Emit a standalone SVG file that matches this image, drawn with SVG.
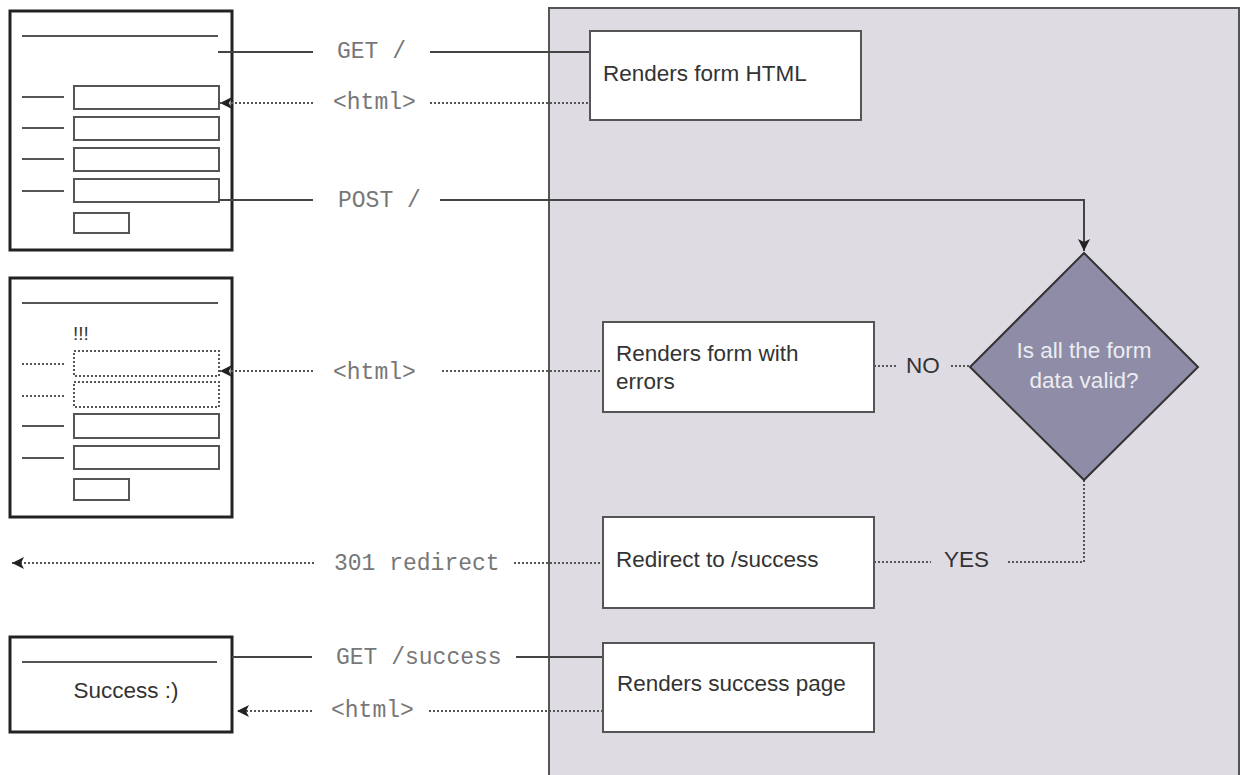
<svg xmlns="http://www.w3.org/2000/svg" width="1241" height="775" viewBox="0 0 1241 775">
<defs>
<style>
.bg{fill:#ffffff}
.panel{fill:#dfdbe3;stroke:#555;stroke-width:2}
.box{fill:#ffffff;stroke:#555;stroke-width:2}
.browser{fill:#ffffff;stroke:#222;stroke-width:3}
.field{fill:none;stroke:#555;stroke-width:2}
.dfield{fill:none;stroke:#555;stroke-width:2;stroke-dasharray:2 2}
.mline{stroke:#555;stroke-width:2;fill:none}
.dline{stroke:#555;stroke-width:2;fill:none;stroke-dasharray:2 2}
.solid{stroke:#444;stroke-width:2;fill:none}
.dotted{stroke:#555;stroke-width:2;fill:none;stroke-dasharray:2 2}
.lbl{font-family:"Liberation Sans",Arial,sans-serif;font-size:22.5px;fill:#333}
.mono{font-family:"Liberation Mono","Courier New",monospace;font-size:23px;fill:#777}
.dtext{font-family:"Liberation Sans",Arial,sans-serif;font-size:22.5px;fill:#ececf2;text-anchor:middle}
</style>
<marker id="arrL" viewBox="0 0 12 12" refX="12" refY="6" markerWidth="12" markerHeight="12" orient="auto" markerUnits="userSpaceOnUse">
<path d="M0,0 L12,6 L0,12 L3,6 z" fill="#222"/>
</marker>
</defs>
<rect class="bg" x="0" y="0" width="1241" height="775"/>

<g id="server">
<rect class="panel" x="549" y="8" width="690" height="800"/>
</g>

<g id="browser-form">
<rect class="browser" x="10" y="11" width="222" height="239"/>
<line class="mline" x1="22" y1="36" x2="218" y2="36"/>
<line class="mline" x1="22" y1="97" x2="64" y2="97"/>
<line class="mline" x1="22" y1="128" x2="64" y2="128"/>
<line class="mline" x1="22" y1="159" x2="64" y2="159"/>
<line class="mline" x1="22" y1="191" x2="64" y2="191"/>
<rect class="field" x="74" y="86" width="145" height="23"/>
<rect class="field" x="74" y="117" width="145" height="23"/>
<rect class="field" x="74" y="148" width="145" height="23"/>
<rect class="field" x="74" y="179" width="145" height="23"/>
<rect class="field" x="74" y="213" width="55" height="20"/>
</g>

<g id="browser-errors">
<rect class="browser" x="10" y="278" width="222" height="239"/>
<line class="mline" x1="22" y1="303" x2="218" y2="303"/>
<text class="lbl" x="73" y="340" style="font-size:19px">!!!</text>
<line class="dline" x1="22" y1="364" x2="64" y2="364"/>
<line class="dline" x1="22" y1="396" x2="64" y2="396"/>
<line class="mline" x1="22" y1="426" x2="64" y2="426"/>
<line class="mline" x1="22" y1="458" x2="64" y2="458"/>
<rect class="dfield" x="74" y="351" width="145" height="25"/>
<rect class="dfield" x="74" y="382" width="145" height="25"/>
<rect class="field" x="74" y="414" width="145" height="24"/>
<rect class="field" x="74" y="446" width="145" height="23"/>
<rect class="field" x="74" y="479" width="55" height="21"/>
</g>

<g id="browser-success">
<rect class="browser" x="10" y="637" width="222" height="95"/>
<line class="mline" x1="22" y1="662" x2="217" y2="662"/>
<text class="lbl" x="126" y="698" text-anchor="middle">Success :)</text>
</g>

<g id="connectors">
<!-- GET / -->
<line class="solid" x1="218" y1="52" x2="313" y2="52"/>
<line class="solid" x1="430" y1="52" x2="590" y2="52"/>
<!-- html 1 -->
<line class="dotted" x1="430" y1="103" x2="590" y2="103"/>
<line class="dotted" x1="313" y1="103" x2="220" y2="103" marker-end="url(#arrL)"/>
<!-- POST / -->
<line class="solid" x1="218" y1="200" x2="313" y2="200"/>
<polyline class="solid" points="440,200 1084,200 1084,251" marker-end="url(#arrL)"/>
<!-- html 2 -->
<line class="dotted" x1="442" y1="371" x2="603" y2="371"/>
<line class="dotted" x1="313" y1="371" x2="220" y2="371" marker-end="url(#arrL)"/>
<!-- NO -->
<line class="dotted" x1="874" y1="366" x2="897" y2="366"/>
<line class="dotted" x1="951" y1="366" x2="970" y2="366"/>
<!-- YES -->
<polyline class="dotted" points="1084,480 1084,562 1007,562"/>
<line class="dotted" x1="874" y1="562" x2="931" y2="562"/>
<!-- 301 redirect -->
<line class="dotted" x1="514" y1="563" x2="603" y2="563"/>
<line class="dotted" x1="314" y1="563" x2="12" y2="563" marker-end="url(#arrL)"/>
<!-- GET /success -->
<line class="solid" x1="232" y1="657" x2="312" y2="657"/>
<line class="solid" x1="516" y1="657" x2="603" y2="657"/>
<!-- html 3 -->
<line class="dotted" x1="429" y1="711" x2="603" y2="711"/>
<line class="dotted" x1="312" y1="711" x2="237" y2="711" marker-end="url(#arrL)"/>
</g>

<g id="labels">
<text class="mono" x="337" y="58">GET /</text>
<text class="mono" x="333" y="109">&lt;html&gt;</text>
<text class="mono" x="338" y="207">POST /</text>
<text class="mono" x="333" y="379">&lt;html&gt;</text>
<text class="lbl" x="906" y="373">NO</text>
<text class="lbl" x="944" y="567">YES</text>
<text class="mono" x="334" y="570">301 redirect</text>
<text class="mono" x="336" y="664">GET /success</text>
<text class="mono" x="331" y="717">&lt;html&gt;</text>
</g>

<g id="renders-form-html">
<rect class="box" x="590" y="31" width="271" height="89"/>
<text class="lbl" x="603" y="81">Renders form HTML</text>
</g>

<g id="decision">
<polygon points="1084,253 1198,367 1084,480 970,367" fill="#8e8ca6" stroke="#333" stroke-width="2"/>
<text class="dtext" x="1084" y="358">Is all the form</text>
<text class="dtext" x="1084" y="388">data valid?</text>
</g>

<g id="renders-form-errors">
<rect class="box" x="603" y="322" width="271" height="90"/>
<text class="lbl" x="616" y="361">Renders form with</text>
<text class="lbl" x="616" y="389">errors</text>
</g>

<g id="redirect-success">
<rect class="box" x="603" y="517" width="271" height="91"/>
<text class="lbl" x="616" y="567">Redirect to /success</text>
</g>

<g id="renders-success">
<rect class="box" x="603" y="643" width="271" height="89"/>
<text class="lbl" x="617" y="691">Renders success page</text>
</g>
</svg>
